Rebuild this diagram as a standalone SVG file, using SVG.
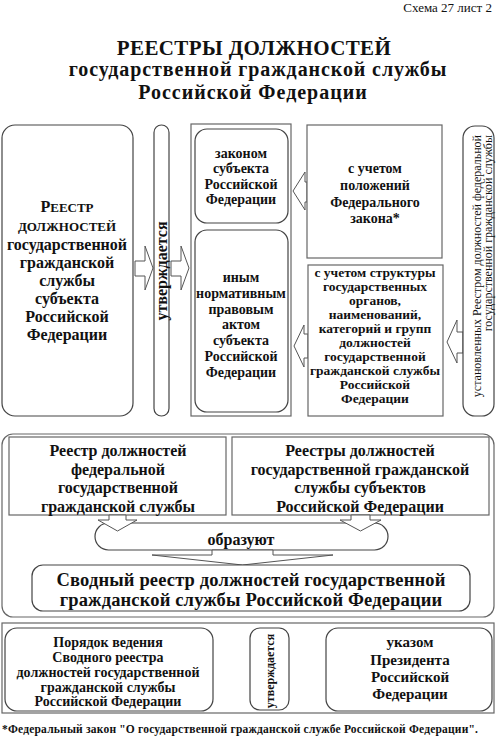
<svg xmlns="http://www.w3.org/2000/svg" width="496" height="739" viewBox="0 0 496 739">
<style>
.b{fill:#fff;stroke:#444;stroke-width:1.2}
.f{fill:#fff;stroke:#666;stroke-width:1.2}
.a{fill:#fff;stroke:#555;stroke-width:1}
text{font-family:"Liberation Serif","DejaVu Serif",serif;fill:#111;font-weight:bold;text-anchor:middle}
.n{font-weight:normal}
</style>
<rect width="496" height="739" fill="#fff"/>
<g id="header">
<text x="492" y="12" class="n" style="text-anchor:end;font-size:13px">Схема 27 лист 2</text>
<text x="254" y="55" style="font-size:21px;letter-spacing:0.4px">РЕЕСТРЫ ДОЛЖНОСТЕЙ</text>
<text x="258" y="76" style="font-size:20px;letter-spacing:0.9px">государственной гражданской службы</text>
<text x="253" y="99" style="font-size:20px;letter-spacing:1px">Российской Федерации</text>
</g>
<g id="connectors">
<polygon class="a" points="135,261 145,261 145,246 153,268 145,290 145,276 135,276"/>
<polygon class="a" points="171,261 181,261 181,246 189,268 181,290 181,276 171,276"/>
<polygon class="a" points="307,182 305,182 305,172 293,191 305,210 305,202 307,202"/>
<polygon class="a" points="308,334 304,334 304,325 294,346 304,367 304,358 308,358"/>
<polygon class="a" points="463,332 457,332 457,320 447,342 457,363 457,353 463,353"/>
<polygon class="a" points="220,662 230,662 230,647 240,672 230,697 230,681 220,681"/>
<polygon class="a" points="297,662 308,662 308,647 317,672 308,697 308,681 297,681"/>
</g>
<g id="left-registry">
<rect class="b" x="2" y="125" width="131" height="291" rx="13"/>
<text x="67" y="212" style="font-size:16px">Р<tspan style="font-size:13px">ЕЕСТР</tspan></text>
<text x="67" y="231" style="font-size:13px">ДОЛЖНОСТЕЙ</text>
<text style="font-size:16px"><tspan x="67" y="250">государственной</tspan><tspan x="67" y="268">гражданской</tspan><tspan x="67" y="286">службы</tspan><tspan x="67" y="304">субъекта</tspan><tspan x="67" y="322">Российской</tspan><tspan x="67" y="340">Федерации</tspan></text>
</g>
<g id="approved-top">
<rect class="b" x="154" y="125" width="15" height="291" rx="7.5"/>
<text transform="translate(166.5,271) rotate(-90)" style="font-size:16px">утверждается</text>
</g>
<g id="acts-group">
<rect class="f" x="191" y="124" width="100" height="292"/>
</g>
<g id="law-subject">
<rect class="b" x="195" y="129" width="93" height="94" rx="12"/>
<text style="font-size:14px"><tspan x="241" y="158">законом</tspan><tspan x="241" y="173">субъекта</tspan><tspan x="241" y="189">Российской</tspan><tspan x="241" y="204">Федерации</tspan></text>
</g>
<g id="other-act">
<rect class="b" x="195" y="230" width="93" height="182" rx="12"/>
<text style="font-size:14px"><tspan x="241" y="282">иным</tspan><tspan x="241" y="298">нормативным</tspan><tspan x="241" y="314">правовым</tspan><tspan x="241" y="329">актом</tspan><tspan x="241" y="345">субъекта</tspan><tspan x="241" y="361">Российской</tspan><tspan x="241" y="377">Федерации</tspan></text>
</g>
<g id="federal-law">
<rect class="f" x="307" y="125" width="135" height="133"/>
<text style="font-size:14px"><tspan x="375" y="173">с учетом</tspan><tspan x="375" y="190">положений</tspan><tspan x="375" y="207">Федерального</tspan><tspan x="375" y="223">закона*</tspan></text>
</g>
<g id="structure">
<rect class="f" x="308" y="265" width="135" height="151"/>
<text style="font-size:13.5px"><tspan x="375" y="277">с учетом структуры</tspan><tspan x="375" y="291">государственных</tspan><tspan x="375" y="305">органов,</tspan><tspan x="375" y="319">наименований,</tspan><tspan x="375" y="333">категорий и групп</tspan><tspan x="375" y="347">должностей</tspan><tspan x="375" y="361">государственной</tspan><tspan x="375" y="375">гражданской службы</tspan><tspan x="375" y="389">Российской</tspan><tspan x="375" y="403">Федерации</tspan></text>
</g>
<g id="federal-registry-note">
<rect class="b" x="463" y="126" width="31" height="290" rx="12"/>
<text class="n" transform="translate(481,135) rotate(-90)" style="font-size:12px;text-anchor:end">установленных Реестром должностей федеральной</text>
<text class="n" transform="translate(492,135) rotate(-90)" style="font-size:12px;text-anchor:end">государственной гражданской службы</text>
</g>
<g id="middle-frame">
<rect class="f" x="2" y="434" width="492" height="183" rx="11"/>
</g>
<g id="federal-reg">
<rect class="f" x="9" y="437" width="217" height="78"/>
<text style="font-size:16px"><tspan x="118" y="456">Реестр должностей</tspan><tspan x="118" y="475">федеральной</tspan><tspan x="118" y="493">государственной</tspan><tspan x="118" y="512">гражданской службы</tspan></text>
</g>
<g id="subjects-reg">
<rect class="f" x="232" y="437" width="257" height="78"/>
<text style="font-size:16px"><tspan x="360" y="456">Реестры должностей</tspan><tspan x="360" y="475">государственной гражданской</tspan><tspan x="360" y="493">службы субъектов</tspan><tspan x="360" y="512">Российской Федерации</tspan></text>
</g>
<g id="form">
<rect class="b" x="95" y="523" width="293" height="27" rx="13.5"/>
<text x="241" y="545" style="font-size:16px">образуют</text>
</g>
<g id="connectors-middle">
<polygon class="a" points="109,515 109,520 98,520 117.5,531 137,520 126,520 126,515"/>
<polygon class="a" points="351,515 351,520 340,520 360.5,531 381,520 370,520 370,515"/>
<polygon class="a" points="212,550 212,555 152,555 242.5,565 333,555 273,555 273,550"/>
</g>
<g id="consolidated">
<rect class="b" x="32" y="565" width="438" height="46" rx="11"/>
<text style="font-size:18.5px;letter-spacing:0.15px"><tspan x="251" y="586">Сводный реестр должностей государственной</tspan><tspan x="251" y="606">гражданской службы Российской Федерации</tspan></text>
</g>
<g id="bottom-frame">
<rect class="f" x="2" y="623" width="492" height="90"/>
</g>
<g id="procedure">
<rect class="b" x="5" y="628" width="208" height="83" rx="12"/>
<text style="font-size:14px"><tspan x="108" y="647">Порядок ведения</tspan><tspan x="108" y="662">Сводного реестра</tspan><tspan x="108" y="677">должностей государственной</tspan><tspan x="108" y="692">гражданской службы</tspan><tspan x="108" y="706">Российской Федерации</tspan></text>
</g>
<g id="approved-bottom">
<rect class="b" x="250" y="628" width="39" height="82" rx="10"/>
<text transform="translate(274,671) rotate(-90)" style="font-size:12px">утверждается</text>
</g>
<g id="decree">
<rect class="b" x="326" y="628" width="166" height="83" rx="12"/>
<text style="font-size:15px"><tspan x="410" y="647">указом</tspan><tspan x="410" y="665">Президента</tspan><tspan x="410" y="682">Российской</tspan><tspan x="410" y="699">Федерации</tspan></text>
</g>
<g id="footnote">
<text x="2" y="733" style="font-size:11.5px;letter-spacing:0.2px;text-anchor:start">*Федеральный закон "О государственной гражданской службе Российской Федерации".</text>
</g>
</svg>
